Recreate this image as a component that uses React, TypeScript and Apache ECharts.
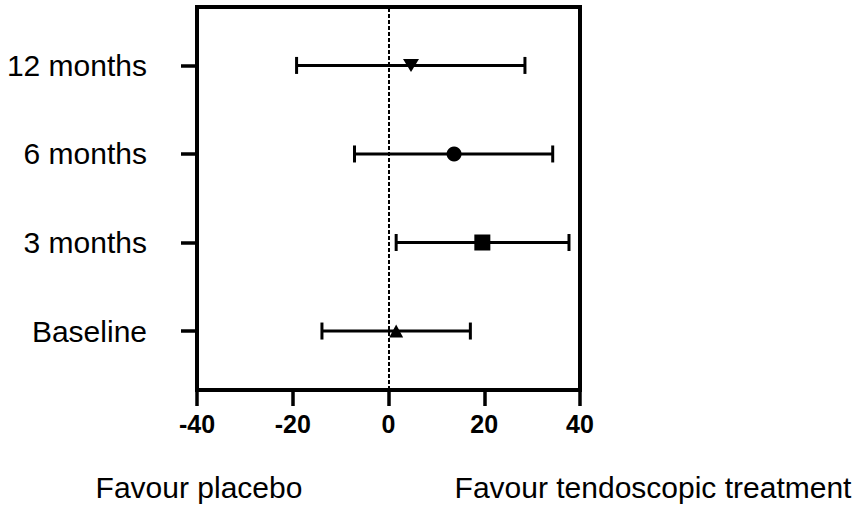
import React, { useEffect, useRef } from "react";
import * as echarts from "echarts";

const categories = ["Baseline", "3 months", "6 months", "12 months"];
const positions = [1, 2, 3, 4];
const means = [1.6, 19.6, 13.7, 4.7];
const lower = [-13.9, 1.6, -7.1, -19.2];
const upper = [17.1, 37.7, 34.3, 28.5];
const xTicks = [-40, -20, 0, 20, 40];
const leftNote = "Favour placebo";
const rightNote = "Favour tendoscopic treatment";

const FONT = "'Liberation Sans', Arial, Helvetica, sans-serif";

export default function App() {
  const ref = useRef<HTMLDivElement>(null);
  useEffect(() => {
    if (!ref.current) return;
    const chart = echarts.init(ref.current, null, { renderer: "svg" });
    const symbols = ["triangle", "rect", "circle", "triangle"];
    const symbolSizes: any[] = [[14, 13], 16, 15, [16, 13]];
    const rotations = [0, 0, 0, 180];
    const errData = positions.map((p, i) => [p, lower[i], upper[i]]);
    const ptData = positions.map((p, i) => ({
      value: [means[i], p],
      symbol: symbols[i],
      symbolSize: symbolSizes[i],
      symbolRotate: rotations[i],
    }));
    chart.setOption({
      animation: false,
      backgroundColor: "#fff",
      textStyle: { fontFamily: FONT },
      grid: {
        left: 197,
        top: 7,
        right: 285,
        bottom: 115,
        show: true,
        borderColor: "#000",
        borderWidth: 4,
        backgroundColor: "transparent",
      },
      xAxis: {
        type: "value",
        min: xTicks[0],
        max: xTicks[xTicks.length - 1],
        interval: 20,
        axisLine: { show: true, onZero: false, lineStyle: { color: "#000", width: 4 } },
        axisTick: { show: true, inside: false, length: 16, lineStyle: { color: "#000", width: 3.5 } },
        axisLabel: {
          color: "#000",
          fontFamily: FONT,
          fontWeight: "bold",
          fontSize: 25,
          margin: 21,
        },
        splitLine: { show: false },
      },
      yAxis: {
        type: "value",
        min: 0.334,
        max: 4.66,
        axisLine: { show: true, onZero: false, lineStyle: { color: "#000", width: 4 } },
        axisTick: {
          show: true,
          inside: false,
          length: 16,
          customValues: positions,
          lineStyle: { color: "#000", width: 3.5 },
        },
        axisLabel: {
          color: "#000",
          fontFamily: FONT,
          fontSize: 30,
          margin: 50,
          customValues: positions,
          formatter: (v: number) => {
            const idx = positions.indexOf(Math.round(v));
            return idx >= 0 ? categories[idx] : "";
          },
        },
        splitLine: { show: false },
      },
      series: [
        {
          type: "custom",
          z: 3,
          data: errData,
          encode: { x: [1, 2], y: 0 },
          renderItem: (params: any, api: any) => {
            const y = api.value(0);
            const lo = api.coord([api.value(1), y]);
            const hi = api.coord([api.value(2), y]);
            const cap = 8.5;
            const st = { stroke: "#000", lineWidth: 3 };
            return {
              type: "group",
              children: [
                { type: "line", shape: { x1: lo[0], y1: lo[1], x2: hi[0], y2: hi[1] }, style: st },
                { type: "line", shape: { x1: lo[0], y1: lo[1] - cap, x2: lo[0], y2: lo[1] + cap }, style: st },
                { type: "line", shape: { x1: hi[0], y1: hi[1] - cap, x2: hi[0], y2: hi[1] + cap }, style: st },
              ],
            };
          },
        },
        {
          type: "scatter",
          z: 4,
          data: ptData,
          itemStyle: { color: "#000", opacity: 1 },
          markLine: {
            silent: true,
            symbol: "none",
            z: 2,
            label: { show: false },
            lineStyle: { color: "#000", width: 2, type: [4, 2], opacity: 1 },
            data: [{ xAxis: 0 }],
          },
        },
      ],
      graphic: [
        {
          type: "text",
          x: 199,
          y: 487,
          style: {
            text: leftNote,
            fontFamily: FONT,
            fontSize: 30,
            fill: "#000",
            textAlign: "center",
            textVerticalAlign: "middle",
          },
        },
        {
          type: "text",
          x: 653,
          y: 487,
          style: {
            text: rightNote,
            fontFamily: FONT,
            fontSize: 30,
            fill: "#000",
            textAlign: "center",
            textVerticalAlign: "middle",
          },
        },
      ],
    });
    return () => chart.dispose();
  }, []);
  return (
    <div
      ref={ref}
      style={{ position: "absolute", left: 0, top: 0, width: 865, height: 505 }}
    />
  );
}
